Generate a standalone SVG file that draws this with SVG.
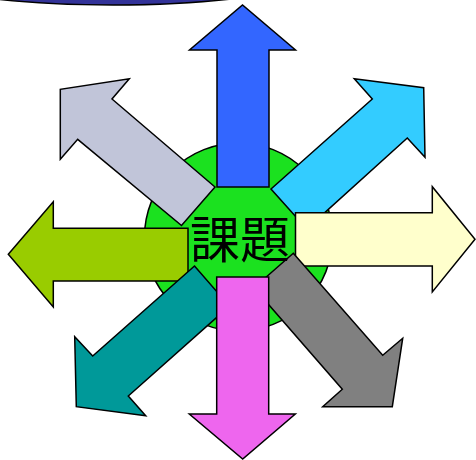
<svg xmlns="http://www.w3.org/2000/svg" width="476" height="460" viewBox="0 0 476 460">
<style>
.a{stroke:#000;stroke-width:1.5;stroke-linejoin:miter}
.t{font-family:"Noto Sans CJK JP","Noto Sans CJK SC",sans-serif;font-size:50px;fill:#000}
</style>
<rect width="476" height="460" fill="#fff"/>
<g id="banner"><ellipse cx="113" cy="-30" rx="210" ry="35" fill="#333399" class="a"/></g>
<g id="center-circle"><circle cx="238.5" cy="237" r="94" fill="#1BE11F" class="a"/></g>
<g id="connectors">
<polygon id="arrow-upleft" class="a" fill="#C1C5D9" points="215,187 181.5,225.5 77.7,139.3 60.3,159.3 60.3,89.3 129.3,78.7 112,99"/>
<polygon id="arrow-up" class="a" fill="#3366FF" points="217,187 217,50 189.5,50 242.5,5 295.5,50 269,50 269,187"/>
<polygon id="arrow-upright" class="a" fill="#33CCFF" points="271,189 372.3,99 354.3,78.7 423.7,87.7 425,157.3 407.3,138 306.8,228.9"/>
<polygon id="arrow-right" class="a" fill="#FFFFCC" points="295.5,212.7 432.3,212.7 432.3,186.7 475,239.3 432.3,292 432.3,266 295.5,266"/>
<polygon id="arrow-left" class="a" fill="#99CC00" points="188,228.3 53.3,228.3 53.3,201.7 8.3,254.3 53.3,307 53.3,281 188,281"/>
<polygon id="arrow-downleft" class="a" fill="#009999" points="194.5,266 229.4,306.1 128.3,396 145.7,415.7 76.3,406.7 74.7,336.7 92.7,356"/>
<polygon id="arrow-downright" class="a" fill="#808080" points="293.3,253.3 382.7,355.3 402.7,338.3 392.3,406.7 322.7,406.7 342.3,389.3 254,287.8"/>
<polygon id="arrow-down" class="a" fill="#EE66EE" points="216.7,277 268.7,277 268.7,414 295.3,414 242.7,459 189.3,414 216.7,414"/>
</g>
<g id="label"><text class="t" x="240" y="258" text-anchor="middle">課題</text></g>
</svg>
